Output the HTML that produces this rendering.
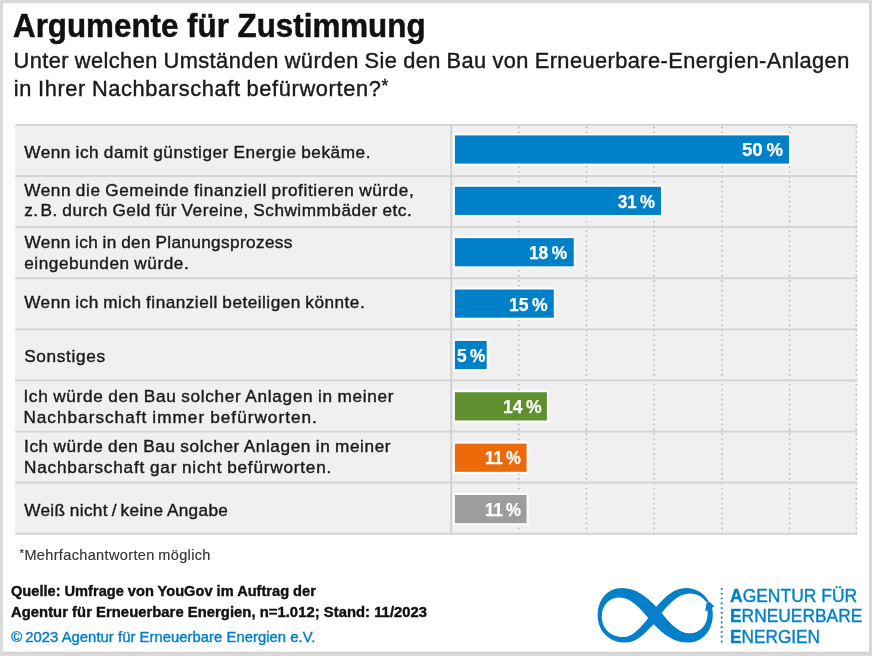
<!DOCTYPE html><html lang="de"><head><meta charset="utf-8"><title>Argumente für Zustimmung</title><style>
html,body{margin:0;padding:0}
body{width:872px;height:656px;position:relative;overflow:hidden;background:#dadada;font-family:"Liberation Sans",sans-serif}
.t{position:absolute;white-space:nowrap;line-height:1;transform-origin:0 0;margin:0}
svg{position:absolute;left:0;top:0}
.as{font-size:.8em;vertical-align:.22em;line-height:0}
</style></head><body>
<svg width="872" height="656" viewBox="0 0 872 656"><rect x="3" y="3.3" width="866" height="648.5" fill="#fff"/><rect x="869" y="3" width="1.6" height="651" fill="#d3d3d3"/><rect x="3" y="651.8" width="867.6" height="1.8" fill="#d3d3d3"/><rect x="15.2" y="124" width="842.2" height="410.7" fill="#f0f0f0"/><line x1="518.76" y1="126.6" x2="518.76" y2="533" stroke="#bdbdbd" stroke-width="1.6" stroke-dasharray="1.6 3.35"/><line x1="586.47" y1="126.6" x2="586.47" y2="533" stroke="#bdbdbd" stroke-width="1.6" stroke-dasharray="1.6 3.35"/><line x1="654.18" y1="126.6" x2="654.18" y2="533" stroke="#bdbdbd" stroke-width="1.6" stroke-dasharray="1.6 3.35"/><line x1="721.89" y1="126.6" x2="721.89" y2="533" stroke="#bdbdbd" stroke-width="1.6" stroke-dasharray="1.6 3.35"/><line x1="789.60" y1="126.6" x2="789.60" y2="533" stroke="#bdbdbd" stroke-width="1.6" stroke-dasharray="1.6 3.35"/><line x1="856.30" y1="126.6" x2="856.30" y2="533" stroke="#bdbdbd" stroke-width="1.6" stroke-dasharray="1.6 3.35"/><rect x="15.2" y="124.00" width="842.2" height="2" fill="#d5d5d5"/><rect x="15.2" y="175.09" width="842.2" height="2" fill="#d5d5d5"/><rect x="15.2" y="226.18" width="842.2" height="2" fill="#d5d5d5"/><rect x="15.2" y="277.27" width="842.2" height="2" fill="#d5d5d5"/><rect x="15.2" y="328.36" width="842.2" height="2" fill="#d5d5d5"/><rect x="15.2" y="379.45" width="842.2" height="2" fill="#d5d5d5"/><rect x="15.2" y="430.54" width="842.2" height="2" fill="#d5d5d5"/><rect x="15.2" y="481.63" width="842.2" height="2" fill="#d5d5d5"/><rect x="15.2" y="532.72" width="842.2" height="2" fill="#d5d5d5"/><rect x="450.3" y="124" width="1.9" height="410.7" fill="#d0d0d0"/><rect x="452.8" y="133.40" width="338.20" height="32.20" fill="#fff"/><rect x="454.9" y="135.40" width="334.10" height="28.20" fill="#0080c8"/><rect x="452.8" y="184.77" width="210.20" height="32.20" fill="#fff"/><rect x="454.9" y="186.77" width="206.10" height="28.20" fill="#0080c8"/><rect x="452.8" y="236.14" width="122.95" height="32.20" fill="#fff"/><rect x="454.9" y="238.14" width="118.85" height="28.20" fill="#0080c8"/><rect x="452.8" y="287.51" width="103.00" height="32.20" fill="#fff"/><rect x="454.9" y="289.51" width="98.90" height="28.20" fill="#0080c8"/><rect x="452.8" y="338.88" width="35.90" height="32.20" fill="#fff"/><rect x="454.9" y="340.88" width="31.80" height="28.20" fill="#0080c8"/><rect x="452.8" y="390.25" width="96.10" height="32.20" fill="#fff"/><rect x="454.9" y="392.25" width="92.00" height="28.20" fill="#5f8f2f"/><rect x="452.8" y="441.62" width="75.80" height="32.20" fill="#fff"/><rect x="454.9" y="443.62" width="71.70" height="28.20" fill="#ec6a0a"/><rect x="452.8" y="492.99" width="75.80" height="32.20" fill="#fff"/><rect x="454.9" y="494.99" width="71.70" height="28.20" fill="#9d9d9c"/></svg>
<svg width="872" height="656" viewBox="0 0 872 656">
<path fill="#0580c8" fill-rule="evenodd" d="M597.7 615.5C597.7 599 608 588 622 588C636 588 647 597 656.3 606.8C665 597 674 588 686 588C696 588 704.5 593.5 708.6 601.2L714.4 606.3L712 607.8C712.6 610 712.8 612 712.8 614.5C712.8 631 702 642.6 688 642.6C674 642.6 663 634 653.7 624.2C645 633 637 642.6 625 642.6C609 642.6 597.7 631 597.7 615.5Z
M601.8 616.5C601.8 605 609 597.5 620 597.5C630 597.5 640 608 648.3 617.9C640 628 633 637 623 637C610 637 601.8 628 601.8 616.5Z
M661.7 612.9C669 604 678 593.4 690 593.4C697.5 593.4 703.3 597.3 706.6 602.6L705.1 611.6L707.4 610.3C707.6 612 707.6 612.5 707.6 613.5C707.6 625 700 633.3 690 633.3C678 633.3 669 622 661.7 612.9Z"/>
<path stroke="#fff" stroke-width="0.6" fill="none" d="M706.2 602.4L708.4 601.9"/>
<g fill="#0580c8"><circle cx="721.7" cy="589.00" r="1.05"/><circle cx="721.7" cy="593.77" r="1.05"/><circle cx="721.7" cy="598.54" r="1.05"/><circle cx="721.7" cy="603.31" r="1.05"/><circle cx="721.7" cy="608.08" r="1.05"/><circle cx="721.7" cy="612.85" r="1.05"/><circle cx="721.7" cy="617.62" r="1.05"/><circle cx="721.7" cy="622.39" r="1.05"/><circle cx="721.7" cy="627.16" r="1.05"/><circle cx="721.7" cy="631.93" r="1.05"/><circle cx="721.7" cy="636.70" r="1.05"/><circle cx="721.7" cy="641.47" r="1.05"/></g>
</svg>

<div class="t" id="t1" style="left:12.75px;top:10.16px;font-size:32.3px;font-weight:700;color:#111;-webkit-text-stroke:0.5px #111;letter-spacing:0.000px;transform:scaleX(0.9701)">Argumente für Zustimmung</div>
<div class="t" id="s1" style="left:13.50px;top:49.55px;font-size:21.8px;font-weight:400;color:#1a1a1a;word-spacing:-0.7px;-webkit-text-stroke:0.4px #1a1a1a;letter-spacing:0.432px;transform:scaleX(1.0000)">Unter welchen Umständen würden Sie den Bau von Erneuerbare-Energien-Anlagen</div>
<div class="t" id="s2" style="left:13.75px;top:77.55px;font-size:21.8px;font-weight:400;color:#1a1a1a;word-spacing:-0.7px;-webkit-text-stroke:0.4px #1a1a1a;letter-spacing:0.629px;transform:scaleX(1.0000)">in Ihrer Nachbarschaft befürworten?<span class="as">*</span></div>
<div class="t" id="r1" style="left:24.20px;top:144.44px;font-size:17.2px;font-weight:400;color:#1a1a1a;word-spacing:-0.7px;-webkit-text-stroke:0.4px #1a1a1a;letter-spacing:0.549px;transform:scaleX(1.0000)">Wenn ich damit günstiger Energie bekäme.</div>
<div class="t" id="r2a" style="left:24.20px;top:182.44px;font-size:17.2px;font-weight:400;color:#1a1a1a;word-spacing:-0.7px;-webkit-text-stroke:0.4px #1a1a1a;letter-spacing:0.596px;transform:scaleX(1.0000)">Wenn die Gemeinde finanziell profitieren würde,</div>
<div class="t" id="r2b" style="left:24.20px;top:202.44px;font-size:17.2px;font-weight:400;color:#1a1a1a;word-spacing:-0.7px;-webkit-text-stroke:0.4px #1a1a1a;letter-spacing:0.509px;transform:scaleX(1.0000)">z.&#8202;B. durch Geld für Vereine, Schwimmbäder etc.</div>
<div class="t" id="r3a" style="left:24.60px;top:234.04px;font-size:17.2px;font-weight:400;color:#1a1a1a;word-spacing:-0.7px;-webkit-text-stroke:0.4px #1a1a1a;letter-spacing:0.367px;transform:scaleX(1.0000)">Wenn ich in den Planungsprozess</div>
<div class="t" id="r3b" style="left:24.20px;top:255.44px;font-size:17.2px;font-weight:400;color:#1a1a1a;word-spacing:-0.7px;-webkit-text-stroke:0.4px #1a1a1a;letter-spacing:0.553px;transform:scaleX(1.0000)">eingebunden würde.</div>
<div class="t" id="r4" style="left:24.20px;top:294.44px;font-size:17.2px;font-weight:400;color:#1a1a1a;word-spacing:-0.7px;-webkit-text-stroke:0.4px #1a1a1a;letter-spacing:0.486px;transform:scaleX(1.0000)">Wenn ich mich finanziell beteiligen könnte.</div>
<div class="t" id="r5" style="left:24.20px;top:348.44px;font-size:17.2px;font-weight:400;color:#1a1a1a;word-spacing:-0.7px;-webkit-text-stroke:0.4px #1a1a1a;letter-spacing:0.675px;transform:scaleX(1.0000)">Sonstiges</div>
<div class="t" id="r6a" style="left:23.40px;top:387.94px;font-size:17.2px;font-weight:400;color:#1a1a1a;word-spacing:-0.7px;-webkit-text-stroke:0.4px #1a1a1a;letter-spacing:0.695px;transform:scaleX(1.0000)">Ich würde den Bau solcher Anlagen in meiner</div>
<div class="t" id="r6b" style="left:23.40px;top:408.64px;font-size:17.2px;font-weight:400;color:#1a1a1a;word-spacing:-0.7px;-webkit-text-stroke:0.4px #1a1a1a;letter-spacing:1.006px;transform:scaleX(1.0000)">Nachbarschaft immer befürworten.</div>
<div class="t" id="r7a" style="left:24.00px;top:438.04px;font-size:17.2px;font-weight:400;color:#1a1a1a;word-spacing:-0.7px;-webkit-text-stroke:0.4px #1a1a1a;letter-spacing:0.610px;transform:scaleX(1.0000)">Ich würde den Bau solcher Anlagen in meiner</div>
<div class="t" id="r7b" style="left:24.00px;top:458.74px;font-size:17.2px;font-weight:400;color:#1a1a1a;word-spacing:-0.7px;-webkit-text-stroke:0.4px #1a1a1a;letter-spacing:0.789px;transform:scaleX(1.0000)">Nachbarschaft gar nicht befürworten.</div>
<div class="t" id="r8" style="left:24.20px;top:501.94px;font-size:17.2px;font-weight:400;color:#1a1a1a;word-spacing:-0.7px;-webkit-text-stroke:0.4px #1a1a1a;letter-spacing:0.350px;transform:scaleX(1.0000)">Weiß nicht&#8201;/&#8201;keine Angabe</div>
<div class="t" id="fn" style="left:19.50px;top:547.73px;font-size:14.5px;font-weight:400;color:#333;word-spacing:-0.7px;-webkit-text-stroke:0.15px #333;letter-spacing:0.360px;transform:scaleX(1.0000)"><span class="as">*</span>Mehrfachantworten möglich</div>
<div class="t" id="q1" style="left:10.60px;top:583.72px;font-size:14.8px;font-weight:700;color:#111;-webkit-text-stroke:0.4px #111;letter-spacing:0.000px;transform:scaleX(0.9870)">Quelle: Umfrage von YouGov im Auftrag der</div>
<div class="t" id="q2" style="left:11.00px;top:604.97px;font-size:14.8px;font-weight:700;color:#111;-webkit-text-stroke:0.4px #111;letter-spacing:0.036px;transform:scaleX(1.0000)">Agentur für Erneuerbare Energien, n=1.012; Stand: 11/2023</div>
<div class="t" id="q3" style="left:11.25px;top:630.07px;font-size:14.8px;font-weight:400;color:#0080c8;-webkit-text-stroke:0.4px #0080c8;letter-spacing:0.047px;transform:scaleX(1.0000)">©&#8201;2023 Agentur für Erneuerbare Energien e.V.</div>
<div class="t" id="l1" style="left:730.30px;top:586.02px;font-size:19px;font-weight:400;color:#0080c8;-webkit-text-stroke:0.4px #0080c8;letter-spacing:0.000px;transform:scaleX(0.9193)"><b>A</b>GENTUR FÜR</div>
<div class="t" id="l2" style="left:730.20px;top:606.22px;font-size:19px;font-weight:400;color:#0080c8;-webkit-text-stroke:0.4px #0080c8;letter-spacing:0.000px;transform:scaleX(0.9147)"><b>E</b>RNEUERBARE</div>
<div class="t" id="l3" style="left:730.20px;top:626.82px;font-size:19px;font-weight:400;color:#0080c8;-webkit-text-stroke:0.4px #0080c8;letter-spacing:0.000px;transform:scaleX(0.9074)"><b>E</b>NERGIEN</div>
<div class="t" id="b0" style="left:741.50px;top:141.06px;font-size:18.6px;font-weight:700;color:#fff;-webkit-text-stroke:0.25px #fff;letter-spacing:0.000px;transform:scaleX(1.0017)">50&#8201;%</div>
<div class="t" id="b1" style="left:618.10px;top:193.15px;font-size:18.6px;font-weight:700;color:#fff;-webkit-text-stroke:0.25px #fff;letter-spacing:0.000px;transform:scaleX(0.9011)">31&#8201;%</div>
<div class="t" id="b2" style="left:529.40px;top:244.17px;font-size:18.6px;font-weight:700;color:#fff;-webkit-text-stroke:0.25px #fff;letter-spacing:0.000px;transform:scaleX(0.9304)">18&#8201;%</div>
<div class="t" id="b3" style="left:509.30px;top:295.77px;font-size:18.6px;font-weight:700;color:#fff;-webkit-text-stroke:0.25px #fff;letter-spacing:0.000px;transform:scaleX(0.9452)">15&#8201;%</div>
<div class="t" id="b4" style="left:457.00px;top:347.00px;font-size:18.6px;font-weight:700;color:#fff;-webkit-text-stroke:0.25px #fff;letter-spacing:0.000px;transform:scaleX(0.9285)">5&#8201;%</div>
<div class="t" id="b5" style="left:502.75px;top:398.36px;font-size:18.6px;font-weight:700;color:#fff;-webkit-text-stroke:0.25px #fff;letter-spacing:0.000px;transform:scaleX(0.9455)">14&#8201;%</div>
<div class="t" id="b6" style="left:485.25px;top:449.40px;font-size:18.6px;font-weight:700;color:#fff;-webkit-text-stroke:0.25px #fff;letter-spacing:0.000px;transform:scaleX(0.8994)">11&#8201;%</div>
<div class="t" id="b7" style="left:485.25px;top:500.50px;font-size:18.6px;font-weight:700;color:#fff;-webkit-text-stroke:0.25px #fff;letter-spacing:0.000px;transform:scaleX(0.8994)">11&#8201;%</div>
</body></html>
